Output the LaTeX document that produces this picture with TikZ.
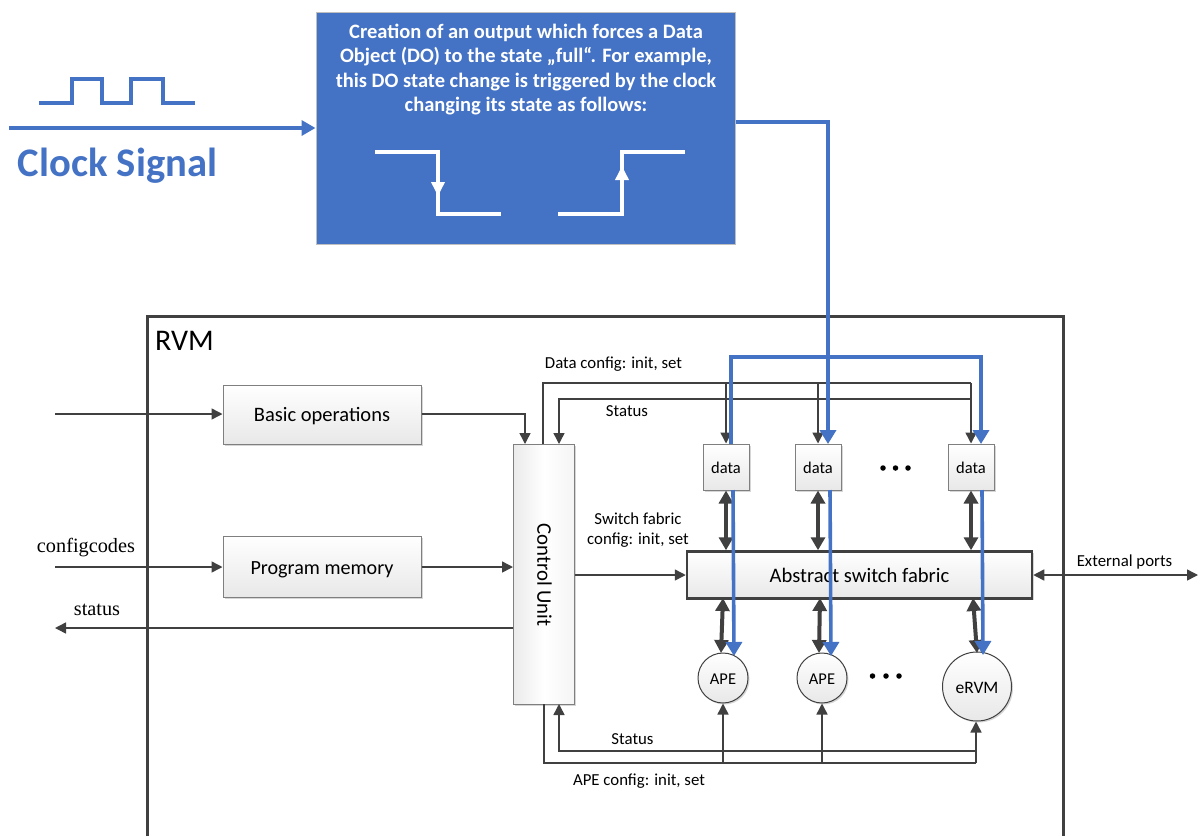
\documentclass[tikz,border=0pt]{standalone}
\usepackage{fontspec}
\setmainfont{Carlito}
\newfontfamily\serifface{Liberation Serif}
\usetikzlibrary{arrows.meta,shadows}
\definecolor{bluefill}{HTML}{4472C4}
\definecolor{darkline}{HTML}{404040}
\definecolor{boxedge}{HTML}{7F7F7F}
\newcommand{\lowered}[2]{\raisebox{-#1pt}[0pt][0pt]{#2}}
\tikzset{
  x=1pt,y=-1pt,
  thinline/.style={draw=darkline,line width=1.5pt,-{Triangle[length=11pt,width=11pt]}},
  plainline/.style={draw=darkline,line width=1.5pt},
  thickline/.style={draw=darkline,line width=4pt,{Triangle[length=13pt,width=14pt]}-{Triangle[length=13pt,width=14pt]}},
  blueline/.style={draw=bluefill,line width=3.6pt,-{Triangle[length=14pt,width=16pt]}},
  bluewave/.style={draw=bluefill,line width=3.5pt},
  whitewave/.style={draw=white,line width=3.5pt},
  whitearrow/.style={draw=white,line width=3.5pt,-{Triangle[length=14pt,width=13pt]}},
  softshadow/.style={general shadow={fill=black!16,shadow xshift=1.5pt,shadow yshift=-1.5pt}},
  greybox/.style={draw=boxedge,line width=1pt,top color=white,bottom color=black!9,softshadow,inner sep=0pt,align=center},
  sidebox/.style={draw=boxedge,line width=1pt,left color=black!8,right color=black!4,middle color=white,softshadow,inner sep=0pt},
  roundbox/.style={greybox,circle,draw=darkline},
  lab/.style={inner sep=0pt,font=\fontsize{16.8}{20}\selectfont,align=center},
  serlab/.style={inner sep=0pt,font=\serifface\fontsize{20.3}{22}\selectfont},
  dotmark/.style={circle,fill=black,minimum size=5.5pt,inner sep=0pt},
}
\begin{document}
\begin{tikzpicture}
\path[use as bounding box,fill=white] (0,0) rectangle (1200,836);

% RVM frame
\coordinate (rvmBL) at (147,836);
\coordinate (rvmTL) at (147,316);
\coordinate (rvmTR) at (1063,316);
\coordinate (rvmBR) at (1063,836);
\draw[darkline,line width=3pt] (rvmBL) -- (rvmTL) -- (rvmTR) -- (rvmBR);
\node[inner sep=0pt,anchor=west,font=\fontsize{30}{32}\selectfont] (rvmlabel) at (155,341) {RVM};

% Clock
\coordinate (w0) at (39,103);\coordinate (w1) at (72,103);\coordinate (w2) at (72,79);
\coordinate (w3) at (102,79);\coordinate (w4) at (102,103);\coordinate (w5) at (131,103);
\coordinate (w6) at (131,79);\coordinate (w7) at (163,79);\coordinate (w8) at (163,103);\coordinate (w9) at (195,103);
\draw[bluewave,line join=miter] (w0)--(w1)--(w2)--(w3)--(w4)--(w5)--(w6)--(w7)--(w8)--(w9);
\node[inner sep=0pt,text=bluefill,font=\bfseries\fontsize{40.6}{42}\selectfont] (clocktext) at (117.5,166) {Clock Signal};

% Top box
\node[draw=black!25,line width=1pt,fill=bluefill,inner sep=0pt,minimum width=419pt,minimum height=232pt] (creation) at (525.5,128) {};
\node[inner sep=0pt,align=center,text=white,font=\bfseries\fontsize{20.5}{24.4}\selectfont] (creationtext) at (526,69.5)
 {Creation of an output which forces a Data\\Object (DO) to the state „full“. For example,\\this DO state change is triggered by the clock\\changing its state as follows:};
\coordinate (clockin) at (9,128);
\draw[draw=bluefill,line width=3.5pt,-{Triangle[length=14pt,width=15pt]}] (clockin) -- (creation.west);

% falling / rising edge
\coordinate (fa) at (375,152);\coordinate (fb) at (438,152);\coordinate (fm) at (438,196);\coordinate (fc) at (438,214);\coordinate (fd) at (501,214);
\draw[whitewave] (fa)--(fb)--(fc)--(fd);
\draw[whitearrow] (fb)--(fm);
\coordinate (ra) at (558,214);\coordinate (rb) at (622,214);\coordinate (rm) at (622,166);\coordinate (rc) at (622,152);\coordinate (rd) at (685,152);
\draw[whitewave] (ra)--(rb)--(rc)--(rd);
\draw[whitearrow] (rb)--(rm);

% Nodes
\node[greybox,minimum width=198pt,minimum height=59pt,font=\fontsize{20.5}{22}\selectfont] (basic) at (322,414.5) {\lowered{6.5}{Basic operations}};
\node[greybox,minimum width=198pt,minimum height=61pt,font=\fontsize{20.1}{22}\selectfont] (progmem) at (322,566.5) {\lowered{7.5}{Program memory}};
\node[sidebox,minimum width=61pt,minimum height=260pt] (ctrl) at (544,574) {};
\node[inner sep=0pt,rotate=-90,font=\fontsize{20.8}{22}\selectfont] (ctrltext) at (544.5,575) {Control Unit};
\node[greybox,minimum width=46pt,minimum height=46pt,font=\fontsize{16.5}{18}\selectfont] (d1) at (726,467) {\lowered{6}{data}};
\node[greybox,minimum width=46pt,minimum height=46pt,font=\fontsize{16.5}{18}\selectfont] (d2) at (818,467) {\lowered{6}{data}};
\node[greybox,minimum width=46pt,minimum height=46pt,font=\fontsize{16.5}{18}\selectfont] (d3) at (971,467) {\lowered{6}{data}};
\node[greybox,draw=darkline,line width=2.5pt,minimum width=345pt,minimum height=47pt,font=\fontsize{20.6}{22}\selectfont] (fabric) at (859.5,575) {Abstract switch fabric};
\node[roundbox,minimum size=50pt,font=\fontsize{16.5}{18}\selectfont] (ape1) at (723,678) {\lowered{6}{APE}};
\node[roundbox,minimum size=50pt,font=\fontsize{16.5}{18}\selectfont] (ape2) at (822,678) {\lowered{6}{APE}};
\node[roundbox,minimum size=69pt,font=\fontsize{17.5}{19}\selectfont] (ervm) at (977,686.5) {\lowered{6.5}{eRVM}};

\node[dotmark] (t1) at (883,468) {};\node[dotmark] (t2) at (895.5,468) {};\node[dotmark] (t3) at (908,468) {};
\node[dotmark] (b1) at (872.5,676) {};\node[dotmark] (b2) at (886,676) {};\node[dotmark] (b3) at (899,676) {};

% Left connectors
\coordinate (inbasic) at (55,414);
\coordinate (inprog) at (55,567);
\coordinate (outstatus) at (55,628);
\coordinate (extern) at (1198,575);
\draw[thinline] (inbasic) -- (inbasic -| basic.west);
\draw[thinline] (inprog) -- (inprog -| progmem.west);
\draw[thinline] (outstatus -| ctrl.west) -- (outstatus);
\draw[thinline] (inprog -| progmem.east) -- (inprog -| ctrl.west);
\coordinate (ctrltop) at (525,444);
\draw[thinline] (inbasic -| basic.east) -| (ctrltop);
\draw[thinline] (ctrl.east |- fabric.west) -- (fabric.west);
\draw[plainline,{Triangle[length=11pt,width=11pt]}-{Triangle[length=11pt,width=11pt]}] (fabric.east) -- (extern);

% Data config / status
\coordinate (dcout) at (543,444);
\coordinate (dcb) at (543,383);
\coordinate (dcr) at (971,383);
\coordinate (stl) at (559,399);
\coordinate (str) at (971,399);
\coordinate (stin) at (559,444);
\draw[plainline] (dcout) -- (dcb) -- (dcr);
\draw[thinline] (dcb -| d1.north) -- (d1.north);
\draw[thinline] (dcb -| d2.north) -- (d2.north);
\draw[thinline] (dcr) -- (d3.north);
\draw[thinline] (str) -- (stl) -- (stin);

% Bottom config / status
\coordinate (sbr) at (976,751);
\coordinate (sbl) at (559,751);
\coordinate (sbin) at (559,704);
\coordinate (acout) at (544,704);
\coordinate (acb) at (544,763);
\coordinate (acr) at (976,763);
\draw[thinline] (sbr) -- (sbl) -- (sbin);
\draw[plainline] (acout) -- (acb) -- (acr);
\draw[thinline] (acb -| ape1.south) -- (ape1.south);
\draw[thinline] (acb -| ape2.south) -- (ape2.south);
\draw[thinline] (acr) -- (ervm.south -| acr);

% Thick double arrows
\draw[thickline] (d1.south) -- (fabric.north -| d1.south);
\draw[thickline] (d2.south) -- (fabric.north -| d2.south);
\draw[thickline] (d3.south) -- (fabric.north -| d3.south);
\coordinate (fa1) at (723,598);\coordinate (fa2) at (820,598);\coordinate (fa3) at (973,598);
\coordinate (ab1) at (721,653);\coordinate (ab2) at (819,653);\coordinate (ab3) at (977,653);
\draw[thickline] (fa1) -- (ab1);
\draw[thickline] (fa2) -- (ab2);
\draw[thickline] (fa3) -- (ab3);

% Blue connectors
\coordinate (o1) at (828,122);
\coordinate (tip2) at (828,444);
\draw[blueline] (creation.east |- o1) -- (o1) -- (tip2);
\coordinate (bs1) at (731,444);
\coordinate (bt1) at (731,357);
\coordinate (bt3) at (981,357);
\coordinate (tip3) at (981,444);
\draw[blueline] (bs1) -- (bt1) -- (bt3) -- (tip3);
\coordinate (bd1) at (733,490);\coordinate (be1) at (734,656);
\coordinate (bd2) at (830,490);\coordinate (be2) at (831,656);
\coordinate (bd3) at (982,490);\coordinate (be3) at (983,655);
\draw[blueline] (bd1) -- (be1);
\draw[blueline] (bd2) -- (be2);
\draw[blueline] (bd3) -- (be3);

% Labels
\node[lab] (l1) at (613.5,364.5) {Data config: init, set};
\node[lab] (l2) at (627,411.5) {Status};
\node[lab] (l3) at (638,530.5) {Switch fabric\\config: init, set};
\node[lab] (l4) at (1124.5,562.5) {External ports};
\node[lab] (l5) at (632.5,739.5) {Status};
\node[lab] (l6) at (639,781.5) {APE config: init, set};
\node[serlab] (l7) at (86,548) {configcodes};
\node[serlab] (l8) at (97,610) {status};
\end{tikzpicture}
\end{document}
